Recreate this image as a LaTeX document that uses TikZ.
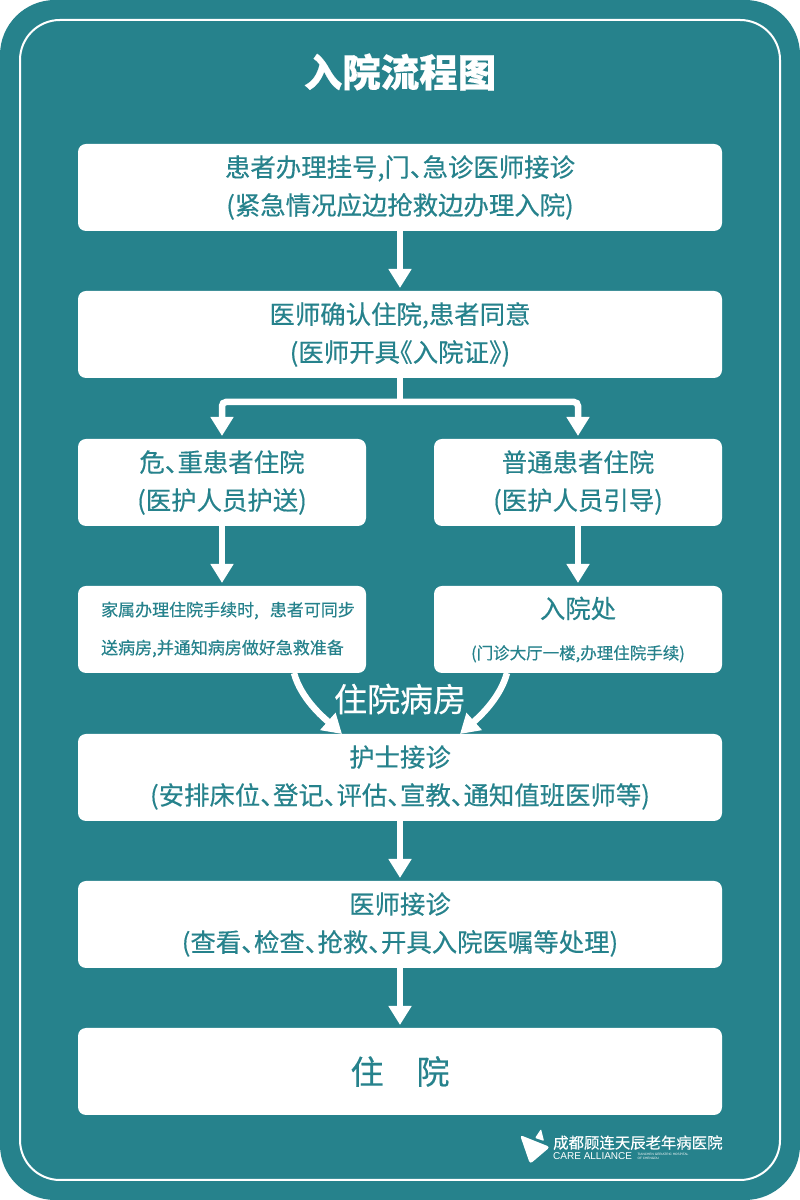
\documentclass[tikz,border=0pt]{standalone}
\usepackage{fontspec}
\setmainfont{Noto Sans CJK SC}[RawFeature={+halt;embolden=0.4}]
\newfontfamily\latinfont{Liberation Sans}
\usetikzlibrary{arrows.meta,positioning}
\definecolor{hosp}{RGB}{38,130,140}
\begin{document}
\begin{tikzpicture}[
  x=1pt, y=1pt,
  >={Triangle[width=22pt,length=19pt]},
  box/.style={fill=white, text=hosp, rounded corners=8pt, align=center, inner sep=0pt, outer sep=0pt,
    minimum height=87pt, execute at begin node={\vspace*{5pt}}, font=\fontsize{25.4}{38}\selectfont},
  widebox/.style={box, minimum width=644pt},
  halfbox/.style={box, minimum width=288pt},
  arrow/.style={->, draw=white, line width=6.5pt, shorten >=3pt}
]
  \useasboundingbox (0,0) rectangle (800,1200);
  \fill[white] (0,0) rectangle (800,1200);
  \fill[hosp, rounded corners=55pt] (0,0) rectangle (800,1200);
  \draw[white, line width=2pt, rounded corners=40pt] (20,20) rectangle (780,1180);

  \node[text=white, font=\bfseries\fontsize{38.5}{40}\selectfont] (title) at (400,1128) {入院流程图};

  \node[widebox] (regbox) at (400,1012.5) {患者办理挂号,门、急诊医师接诊\\(紧急情况应边抢救边办理入院)};
  \node[widebox, below=60pt of regbox] (admitbox) {医师确认住院,患者同意\\(医师开具《入院证》)};
  \node[halfbox, below right=61pt and 0pt of admitbox.south west] (critbox) {危、重患者住院\\(医护人员护送)};
  \node[halfbox, below left=61pt and 0pt of admitbox.south east] (normbox) {普通患者住院\\(医护人员引导)};
  \node[halfbox, below=60pt of critbox, align=left, font=\fontsize{17}{38}\selectfont] (famnote) {\hspace*{12pt}家属办理住院手续时,\hspace{11pt}患者可同步\\\hspace*{12pt}送病房,并通知病房做好急救准备};
  \node[halfbox, below=60pt of normbox, font=\fontsize{16.5}{41}\selectfont] (officebox) {{\fontsize{25.4}{38}\selectfont 入院处}\\(门诊大厅一楼,办理住院手续)};
  \node[widebox, below right=61pt and 0pt of famnote.south west] (nursebox) {护士接诊\\(安排床位、登记、评估、宣教、通知值班医师等)};
  \node[widebox, below=60pt of nursebox] (docbox) {医师接诊\\(查看、检查、抢救、开具入院医嘱等处理)};
  \node[widebox, below=60pt of docbox, font=\fontsize{33}{38}\selectfont] (staybox) {住\hspace{33pt}院};

  \node[text=white, font=\fontsize{33}{36}\selectfont] (wardlabel) at (400,501) {住院病房};

  \coordinate (split) at ([yshift=-24pt]admitbox.south);
  \draw[arrow] (regbox) -- (admitbox);
  \draw[draw=white, line width=6.5pt] (admitbox.south) -- (split);
  \draw[arrow, rounded corners=4pt] (split) -| (critbox.north);
  \draw[arrow, rounded corners=4pt] (split) -| (normbox.north);
  \draw[arrow] (critbox) -- (famnote);
  \draw[arrow] (normbox) -- (officebox);
  \draw[arrow, shorten >=0pt] ([xshift=72pt]famnote.south) .. controls +(7,-26) and +(-18,16) .. ([xshift=-58pt]nursebox.north);
  \draw[arrow, shorten >=0pt] ([xshift=-71pt]officebox.south) .. controls +(-7,-26) and +(18,16) .. ([xshift=60pt]nursebox.north);
  \draw[arrow] (nursebox) -- (docbox);
  \draw[arrow] (docbox) -- (staybox);

  % logo
  \fill[white, rounded corners=3pt] (520,65) -- (550,53) -- (530,36) -- cycle;
  \fill[white, rounded corners=1pt] (535,62) -- (541,71) -- (544,59) -- cycle;
  \node[text=white, inner sep=0pt, anchor=west, text height=12pt, text depth=1pt, font=\fontsize{15.4}{16}\selectfont] (logocn) at (553,57) {成都顾连天辰老年病医院};
  \node[text=white, inner sep=0pt, anchor=west, font=\latinfont\fontsize{10}{10}\selectfont] (logoen) at (553,44) {CARE ALLIANCE};
  \node[text=white, inner sep=0pt, align=left, right=5pt of logoen, font=\latinfont\fontsize{3.2}{4}\selectfont] (logosub) {TIANCHEN GERIATRIC HOSPITAL\\OF CHENGDU};
\end{tikzpicture}
\end{document}
